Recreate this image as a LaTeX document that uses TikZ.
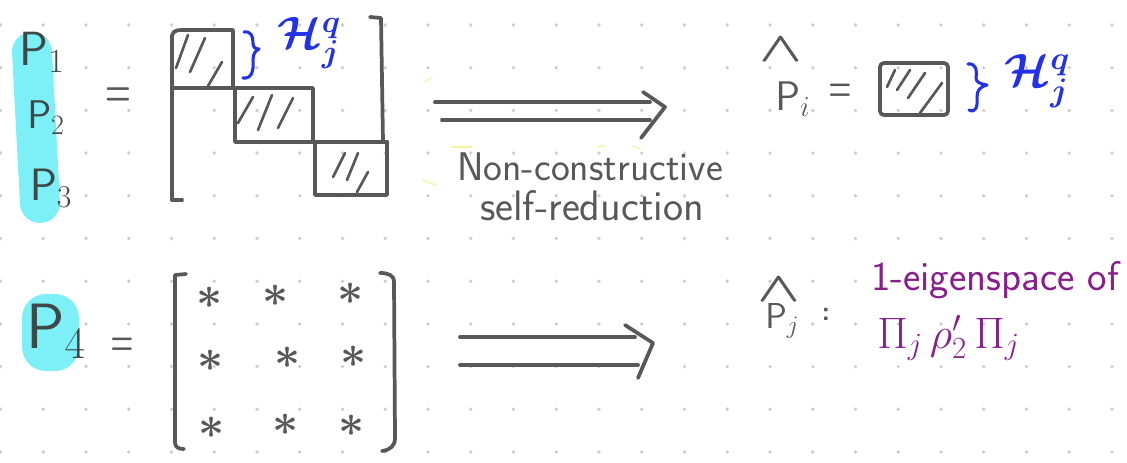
\RequirePackage{fix-cm}
\documentclass[tikz,border=0pt]{standalone}
\usepackage{graphicx}
\usetikzlibrary{calc}
\definecolor{ink}{RGB}{88,88,88}
\definecolor{inkdark}{RGB}{62,72,72}
\definecolor{hl}{RGB}{125,240,247}
\definecolor{pen}{RGB}{35,50,230}
\definecolor{plum}{RGB}{135,30,140}
\definecolor{dotc}{RGB}{205,205,205}
\definecolor{hlyel}{RGB}{246,242,160}
\tikzset{
  stroke/.style={draw=ink, line width=2.8pt, line cap=round, line join=round},
  hatch/.style={draw=ink, line width=2pt, line cap=round},
  bluepen/.style={draw=pen, line width=2.3pt, line cap=round, line join=round},
  hand/.style={text=inkdark, inner sep=0pt},
  starnode/.style={text=ink, inner sep=0pt, font=\boldmath\fontsize{34}{38}\selectfont},
  eqsign/.style={text=ink, inner sep=0pt, font=\boldmath\fontsize{26}{30}\selectfont},
  hatmark/.style={text=ink, inner sep=0pt, font=\boldmath\fontsize{30}{34}\selectfont},
  highlighter/.style={draw=hl, line cap=round},
  yelmark/.style={draw=hlyel, line width=1pt, line cap=round}
}
\begin{document}
\begin{tikzpicture}[x=0.75pt,y=-0.75pt]
\useasboundingbox (0,0) rectangle (1127,462);
\fill[white] (0,0) rectangle (1127,462);
% dot grid
\foreach \i in {0,...,26}{
  \foreach \j in {0,...,10}{
    \fill[dotc] ({0.5+42.75*\i},{25+42.7*\j}) circle (1.4pt);
  }
}
% faint yellow marks
\draw[yelmark] (425,82) -- (432,77);
\draw[yelmark] (452,147) -- (472,147);
\draw[yelmark] (598,147) -- (605,146);
\draw[yelmark] (633,146) -- (640,149);
\draw[yelmark] (423,180) -- (436,185);
% highlighters
\draw[highlighter, line width=30pt] (32,52) -- (40,203);
\fill[hl, rounded corners=18pt] (22,294) rectangle (79,371);

% left labels
\node[hand, font=\sffamily\fontsize{36}{40}\selectfont] (p1) at (42,52) {$\mathsf{P}_1$};
\node[hand, font=\sffamily\fontsize{30}{34}\selectfont] (p2) at (46,118) {$\mathsf{P}_2$};
\node[hand, font=\sffamily\fontsize{34}{38}\selectfont] (p3) at (51,188) {$\mathsf{P}_3$};
\node[hand, font=\sffamily\fontsize{48}{52}\selectfont] (p4) at (56,331) {$\mathsf{P}_4$};
\node[eqsign] (eq1) at (118,97) {\scalebox{0.85}[1.4]{$=$}};
\node[eqsign] (eq2) at (122,347) {\scalebox{0.75}[1.3]{$=$}};

% top block-diagonal matrix
\draw[stroke] (172,200) -- (172,40) .. controls (171,32) and (175,30) .. (181,30) -- (233,30) -- (233,88);
\draw[stroke] (172,200) -- (182,200);
\draw[stroke] (172,88) -- (313,88) -- (313,142);
\draw[stroke] (235,88) -- (235,142) -- (387,142);
\draw[stroke] (315,142) -- (315,195) -- (387,195) -- (387,142);
\draw[stroke] (370,17) -- (381,18) -- (383,142);
% hatching
\draw[hatch] (176,68) -- (188,35);
\draw[hatch] (190,72) -- (205,38);
\draw[hatch] (208,86) -- (222,62);
\draw[hatch] (238,123) -- (253,97);
\draw[hatch] (258,130) -- (272,95);
\draw[hatch] (278,128) -- (293,98);
\draw[hatch] (333,177) -- (345,153);
\draw[hatch] (347,180) -- (358,153);
\draw[hatch] (357,192) -- (368,172);
% blue brace and label
\draw[bluepen] (244,32) .. controls (251,31) and (253,36) .. (253,43) .. controls (253,47) and (255,49) .. (259,49) .. controls (255,51) and (253,54) .. (253,60) .. controls (254,72) and (251,79) .. (243,78);
\node[text=pen, inner sep=0pt, font=\boldmath\fontsize{34}{38}\selectfont] (h1) at (309,43) {$\mathcal{H}_j^q$};

% top arrow
\coordinate (a1s) at (435,111);
\coordinate (a1e) at (665,107);
\draw[stroke] ($(a1s)+(0,-9)$) -- ($(a1e)+(-15,-5)$);
\draw[stroke] ($(a1s)+(7,9)$) -- ($(a1e)+(-15,13)$);
\draw[stroke] ($(a1e)+(-22,-15)$) -- (a1e) -- ($(a1e)+(-24,31)$);

% arrow label
\node[text=ink, inner sep=0pt, anchor=base, font=\sffamily\fontsize{30}{34}\selectfont] (nc) at (590,180) {Non-constructive};
\node[text=ink, inner sep=0pt, anchor=base, font=\sffamily\fontsize{32}{36}\selectfont] (sr) at (592,220) {self-reduction};

% top right
\node[text=ink, inner sep=0pt, anchor=base west, font=\sffamily\fontsize{31}{34}\selectfont] (phi) at (775,110) {$\mathsf{P}_i$};
\node[hatmark] (phihat) at (781,50) {\scalebox{1.4}[1.05]{$\wedge$}};
\node[eqsign] (eq3) at (840,93) {\scalebox{0.75}[1.3]{$=$}};
\node[stroke, rounded corners=3pt, minimum width=51pt, minimum height=39pt, inner sep=0pt] (box) at (914,89) {};
\draw[hatch] (887,87) -- (895,70);
\draw[hatch] (897,90) -- (910,70);
\draw[hatch] (908,98) -- (925,73);
\draw[hatch] (920,113) -- (942,83);
\draw[bluepen] (968,64) .. controls (976,63) and (977,70) .. (976,78) .. controls (976,82) and (980,84) .. (987,85) .. controls (980,87) and (977,90) .. (977,97) .. controls (978,108) and (975,113) .. (969,110);
\node[text=pen, inner sep=0pt, font=\boldmath\fontsize{35}{40}\selectfont] (h2) at (1037,81) {$\mathcal{H}_j^q$};

% bottom matrix
\draw[stroke] (186,274) -- (175,275) -- (175,442) .. controls (175,447) and (178,449) .. (184,449);
\draw[stroke] (380,273) .. controls (388,273) and (394,275) .. (394,282) -- (395,438) .. controls (395,446) and (390,450) .. (382,451);
\node[starnode] (s11) at (210,298) {$\ast$};
\node[starnode] (s12) at (276,296) {$\ast$};
\node[starnode] (s13) at (351,294) {$\ast$};
\node[starnode] (s21) at (211,361) {$\ast$};
\node[starnode] (s22) at (288,358) {$\ast$};
\node[starnode] (s23) at (354,357) {$\ast$};
\node[starnode] (s31) at (212,428) {$\ast$};
\node[starnode] (s32) at (286,425) {$\ast$};
\node[starnode] (s33) at (352,426) {$\ast$};

% bottom arrow
\coordinate (a2s) at (460,351);
\coordinate (a2e) at (653,343);
\draw[stroke] ($(a2s)+(0,-14)$) -- ($(a2e)+(-18,-6)$);
\draw[stroke] ($(a2s)+(0,14)$) -- ($(a2e)+(-15,22)$);
\draw[stroke] ($(a2e)+(-28,-18)$) -- (a2e) -- ($(a2e)+(-15,35)$);

% bottom right
\node[text=ink, inner sep=0pt, anchor=base west, font=\sffamily\fontsize{27}{30}\selectfont] (phj) at (765,328) {$\mathsf{P}_j$};
\node[hatmark] (phjhat) at (779,290) {\scalebox{1.4}[1.05]{$\wedge$}};
\node[text=ink, inner sep=0pt, font=\sffamily\bfseries\fontsize{20}{24}\selectfont] (col) at (826,314) {:};
\node[text=plum, inner sep=0pt, anchor=base, font=\sffamily\fontsize{31}{36}\selectfont] (eig) at (995,290) {1-eigenspace of};
\node[text=plum, inner sep=0pt, anchor=base west, font=\fontsize{33}{36}\selectfont] (pip) at (877,348) {$\Pi_j\,\rho_2'\,\Pi_j$};
\end{tikzpicture}
\end{document}
